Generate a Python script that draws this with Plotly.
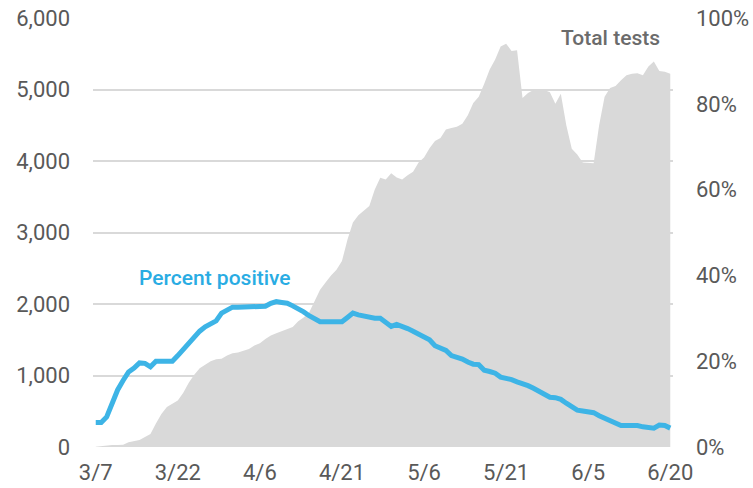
import plotly.graph_objects as go
import pandas as pd

start_date = "2020-03-07"
total_tests = [
    5, 15, 28, 28, 28, 30, 65, 80, 98, 140,
    182, 330, 460, 560, 600, 650, 760, 900, 1010, 1100,
    1150, 1200, 1226, 1235, 1280, 1310, 1320, 1345, 1370, 1420,
    1450, 1510, 1560, 1590, 1620, 1650, 1680, 1760, 1810, 1880,
    2050, 2200, 2300, 2400, 2480, 2600, 2900, 3140, 3240, 3310,
    3370, 3600, 3766, 3740, 3830, 3770, 3740, 3800, 3850, 3980,
    4050, 4180, 4280, 4320, 4440, 4460, 4480, 4520, 4640, 4810,
    4900, 5080, 5280, 5420, 5600, 5640, 5540, 5550, 4880, 4950,
    4993, 4980, 4993, 4960, 4800, 4940, 4500, 4170, 4090, 3980,
    3970, 3970, 4500, 4900, 5020, 5050, 5130, 5200, 5220, 5226,
    5200, 5320, 5390, 5260, 5250, 5220,
]
percent_positive = [
    5.7, 5.7, 7.0, 10.0, 13.3, 15.5, 17.5, 18.4, 19.6, 19.5,
    18.7, 20.0, 20.0, 20.0, 20.0, 21.3, 22.8, 24.2, 25.7, 27.0,
    28.0, 28.8, 29.4, 31.2, 32.0, 32.6, 32.6, 32.6, 32.6, 32.6,
    32.6, 32.8, 33.5, 33.9, 33.7, 33.5, 32.9, 32.3, 31.5, 30.6,
    29.8, 29.2, 29.2, 29.2, 29.2, 29.2, 30.2, 31.2, 30.8, 30.5,
    30.2, 30.0, 30.0, 29.0, 28.1, 28.6, 28.2, 27.6, 27.0, 26.4,
    25.8, 25.0, 23.6, 22.9, 22.5, 21.3, 21.0, 20.5, 19.8, 19.3,
    19.2, 17.9, 17.6, 17.2, 16.3, 16.1, 15.7, 15.2, 14.9, 14.3,
    13.7, 12.9, 12.3, 11.6, 11.5, 11.1, 10.2, 9.5, 8.6, 8.4,
    8.3, 8.0, 7.3, 6.8, 6.3, 5.5, 5.0, 5.0, 5.0, 5.0,
    4.7, 4.4, 4.4, 5.1, 5.0, 4.4,
]
tick_dates = ["2020-03-07", "2020-03-22", "2020-04-06", "2020-04-21",
              "2020-05-06", "2020-05-21", "2020-06-05", "2020-06-20"]
tick_labels = ["3/7", "3/22", "4/6", "4/21", "5/6", "5/21", "6/5", "6/20"]
left_ticks = [0, 1000, 2000, 3000, 4000, 5000, 6000]
left_labels = ["0", "1,000", "2,000", "3,000", "4,000", "5,000", "6,000"]
right_ticks = [0, 20, 40, 60, 80, 100]
right_labels = ["0%", "20%", "40%", "60%", "80%", "100%"]

dates = pd.date_range(start_date, periods=len(total_tests), freq="D")

TICK_COLOR = "#595959"
FONT = "Roboto"
TICK_SIZE = 22

fig = go.Figure()
fig.add_trace(go.Scatter(
    x=dates, y=total_tests, mode="lines", fill="tozeroy",
    line=dict(width=0, color="#d9d9d9"), fillcolor="#d9d9d9",
    hoverinfo="skip", showlegend=False, yaxis="y",
))
fig.add_trace(go.Scatter(
    x=dates, y=percent_positive, mode="lines",
    line=dict(width=5, color="#3db4e6"),
    showlegend=False, yaxis="y2",
))

fig.update_layout(
    width=753, height=488,
    margin=dict(l=93, r=80, t=18, b=41),
    plot_bgcolor="white", paper_bgcolor="white",
    font=dict(family=FONT, color=TICK_COLOR, size=TICK_SIZE),
    xaxis=dict(
        range=[pd.Timestamp("2020-03-06 12:00"), pd.Timestamp("2020-06-20 12:00")],
        tickvals=pd.to_datetime(tick_dates), ticktext=tick_labels,
        showgrid=False, zeroline=False, showline=False, ticks="",
        tickfont=dict(size=TICK_SIZE, color=TICK_COLOR, family=FONT),
        ticklabelstandoff=10, automargin=False,
    ),
    yaxis=dict(
        range=[0, 6000], tickvals=left_ticks, ticktext=left_labels,
        showgrid=True, gridcolor="#d9d9d9", gridwidth=2,
        zeroline=False, showline=False, ticks="",
        tickfont=dict(size=TICK_SIZE, color=TICK_COLOR, family=FONT),
        ticklabelstandoff=22, automargin=False,
    ),
    yaxis2=dict(
        range=[0, 100], tickvals=right_ticks, ticktext=right_labels,
        overlaying="y", side="right",
        showgrid=False, zeroline=False, showline=False, ticks="",
        tickfont=dict(size=TICK_SIZE, color=TICK_COLOR, family=FONT),
        ticklabelstandoff=22, automargin=False,
    ),
    annotations=[
        dict(text="Total tests", x=pd.Timestamp("2020-06-18 12:00"), y=5720,
             xref="x", yref="y", xanchor="right", yanchor="middle",
             showarrow=False,
             font=dict(family=FONT, size=21, weight=500, color="#6b6b6b")),
        dict(text="Percent positive", x=pd.Timestamp("2020-03-28 18:00"), y=2370,
             xref="x", yref="y", xanchor="center", yanchor="middle",
             showarrow=False,
             font=dict(family=FONT, size=21, weight=500, color="#29ace3")),
    ],
)

fig.write_html(
    "out.html",
    config={"displayModeBar": False},
    post_script="document.body.style.margin='0';document.body.style.overflow='hidden';",
)
